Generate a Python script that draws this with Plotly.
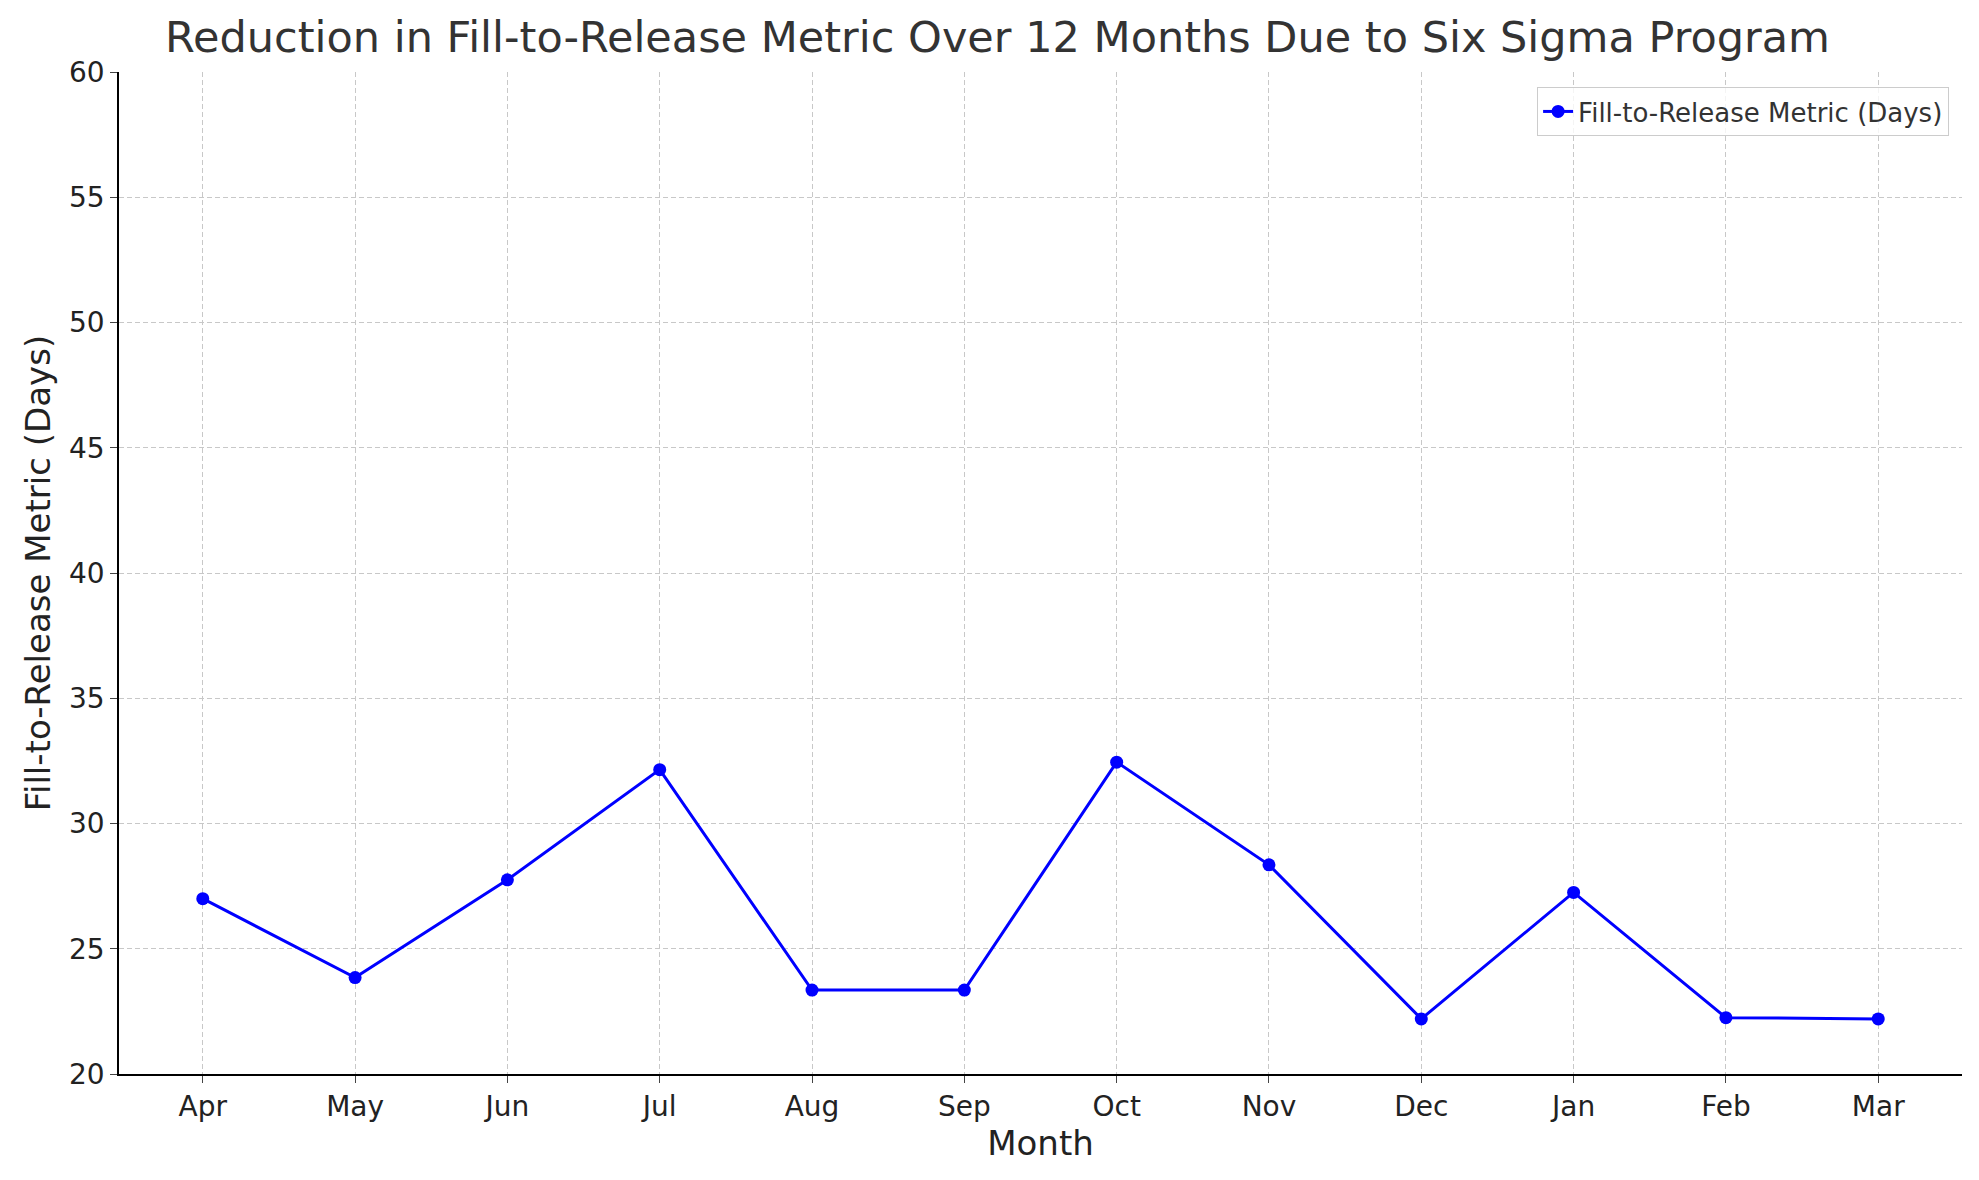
import plotly.graph_objects as go

months = ["Apr","May","Jun","Jul","Aug","Sep","Oct","Nov","Dec","Jan","Feb","Mar"]
values = [27.0, 23.85, 27.75, 32.15, 23.35, 23.35, 32.45, 28.35, 22.2, 27.25, 22.25, 22.2]
yticks = [20,25,30,35,40,45,50,55,60]

fig = go.Figure(go.Scatter(
    x=list(range(len(months))), y=values, mode="lines+markers",
    name="Fill-to-Release Metric (Days)",
    line=dict(color="blue", width=3), marker=dict(color="blue", size=13)))

fig.update_layout(
    width=1979, height=1180, plot_bgcolor="white", paper_bgcolor="white",
    font=dict(family="DejaVu Sans", color="#222", size=28),
    margin=dict(l=111, r=25, t=64, b=114),
    title=dict(text="Reduction in Fill-to-Release Metric Over 12 Months Due to Six Sigma Program",
               x=0.5, xanchor="center", y=0.988, yanchor="top", font=dict(size=43, color="#333")),
    showlegend=True,
    legend=dict(x=0.993, y=0.985, xanchor="right", yanchor="top", bordercolor="#ccc", borderwidth=1,
                bgcolor="rgba(255,255,255,0.8)", font=dict(size=26, color="#333")),
    xaxis=dict(title=dict(text="Month", standoff=4), tickvals=list(range(len(months))), ticktext=months,
               range=[-0.55, 11.55], showgrid=True, gridcolor="#c8c8c8", griddash="5px,3px",
               showline=True, linecolor="black", linewidth=1.5, mirror=False,
               ticks="outside", ticklen=7, zeroline=False),
    yaxis=dict(title=dict(text="Fill-to-Release Metric (Days)", standoff=8), tickvals=yticks, range=[20, 60],
               showgrid=True, gridcolor="#c8c8c8", griddash="5px,3px",
               showline=True, linecolor="black", linewidth=1.5,
               ticks="outside", ticklen=7, zeroline=False),
)
fig.write_html("out.html")
